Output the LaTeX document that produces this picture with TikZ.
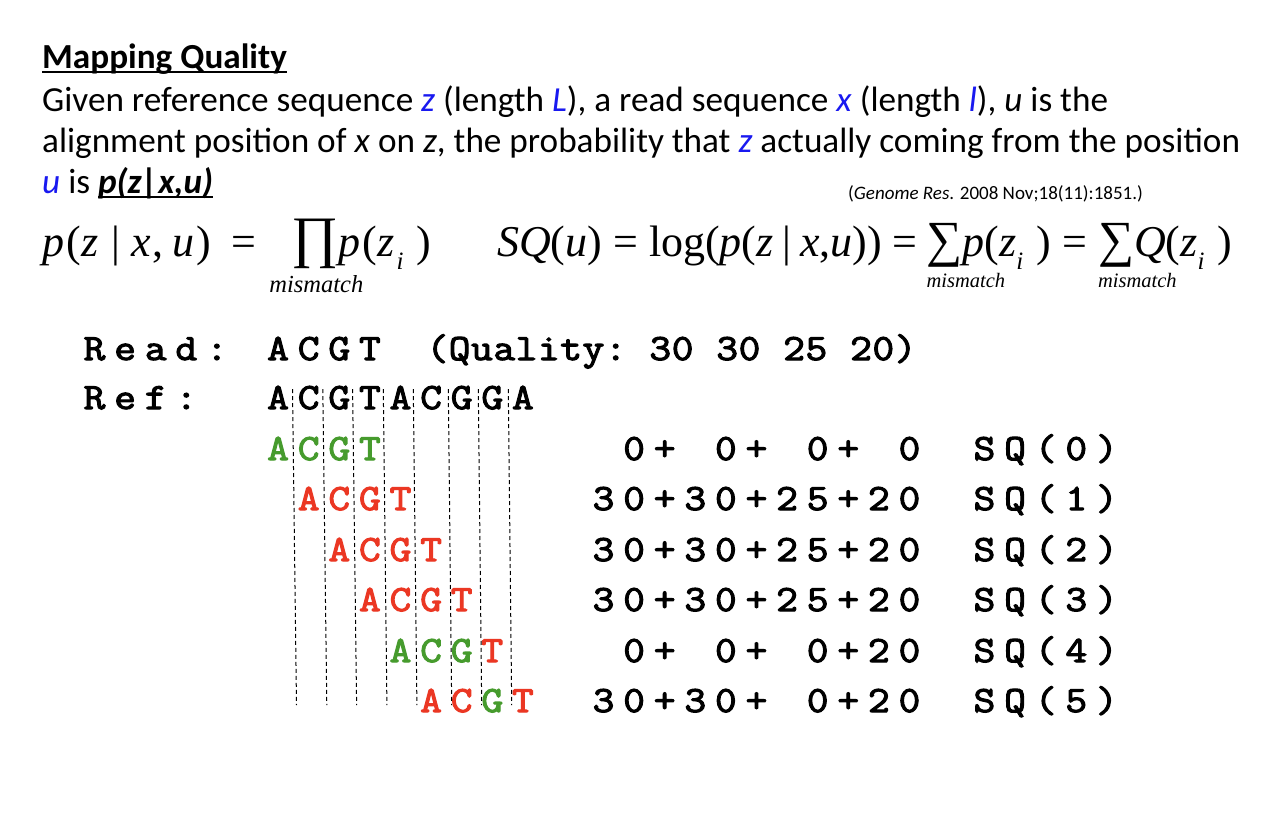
\documentclass[tikz,border=0pt]{standalone}
\usepackage{fontspec}
\setmainfont{Carlito}
\newfontfamily\tms{Liberation Serif}
\newfontfamily\crb[FakeBold=3,FakeStretch=1.14]{Latin Modern Mono}
\definecolor{grn}{RGB}{70,155,45}
\definecolor{rd}{RGB}{235,55,35}
\definecolor{bl}{RGB}{25,25,240}
\newlength\cellw \setlength\cellw{30.6pt}
\makeatletter
\newcommand\spc[2][\cellw]{\def\spcw{#1}\spc@i#2\relax}
\def\spc@i#1{\ifx\relax#1\else\makebox[\spcw][c]{#1}\expandafter\spc@i\fi}
\makeatother
\newcommand\ulx[1]{\setbox0\hbox{#1}\rlap{\vrule height -3pt depth 5pt width \wd0}\box0}
\newcommand\mi[1]{{\itshape #1}}
\newcommand\mic[1]{{\itshape #1}\hspace{0.05em}}
\newcommand\sbi{\raisebox{-0.3em}{\fontsize{25}{25}\selectfont\itshape i}\hspace{0.3em}}
\newcommand\vb{\hspace{0.25em}|\hspace{0.25em}}
\newcommand\vbn{\hspace{0.2em}|\hspace{0.2em}}
% operator with "mismatch" below: #1 symbol, #2 drop, #3 size, #4 left shift
\newcommand\opl[4]{\rlap{\hspace{-#4}\raisebox{-#2}{\fontsize{#3}{#3}\selectfont\itshape mismatch}}#1}
\newcommand\bz[1]{\textcolor{bl}{\textit{#1}}}
\tikzset{
  body/.style={anchor=base west, inner sep=0pt, font=\fontsize{35.2}{40}\selectfont},
  frm/.style={anchor=base west, inner sep=0pt, font=\tms\fontsize{44}{48}\selectfont},
  mono/.style={anchor=base west, inner sep=0pt, font=\crb\fontsize{37}{40}\selectfont},
  guide/.style={draw=black, line width=1pt, dash pattern=on 4pt off 3pt}
}
\begin{document}
\begin{tikzpicture}[x=1pt,y=-1pt]
\useasboundingbox[fill=white] (0,0) rectangle (1272,831);
% heading and text
\node[body, font=\bfseries\fontsize{35.2}{40}\selectfont] (title) at (42,68) {\ulx{Mapping Quality}};
\node[body] (l1) at (42,111) {Given reference sequence \bz{z} (length \bz{L}), a read sequence \bz{x} (length \bz{l}), \textit{u} is the};
\node[body] (l2) at (42,152) {alignment position of \textit{x} on \textit{z}, the probability that \bz{z} actually coming from the position};
\node[body] (l3) at (42,193) {\bz{u} is \textbf{\textit{\ulx{p(z|x,u)}}}};
\node[anchor=base west, inner sep=0pt, font=\fontsize{19}{21}\selectfont] (cite) at (848,199) {(\textit{Genome Res}. 2008 Nov;18(11):1851.)};
% formulas
\node[frm] (f1) at (42,256) {\mic{p}(\mic{z}\vb\mic{x},\hspace{0.2em}\mic{u})\hspace{0.45em}=\hspace{0.8em}\opl{\scalebox{1.3}{∏}}{36pt}{24.5}{22pt}\mic{p}(\mic{z}\sbi)};
\node[frm] (f2) at (497,256) {\mi{SQ}(\mi{u}) = log(\mi{p}(\mi{z}\vbn\mi{x},\mi{u})) =\hspace{0.2em}\opl{\scalebox{1.15}{∑}}{31pt}{20.5}{0pt}\mi{p}(\mi{z}\sbi) =\hspace{0.25em}\opl{\scalebox{1.15}{∑}}{31pt}{20.5}{0pt}\mi{Q}(\mi{z}\sbi)};
% read / ref
\node[mono] (read) at (79,360) {\spc{Read:~ACGT~}};
\node[mono] (qual) at (426,360) {\spc[22.3pt]{(Quality:~30~30~25~20)}};
\node[mono] (ref) at (79,409) {\spc{Ref:~~ACGTACGGA}};
% aligned reads
\node[mono, text=grn] (r0) at (262.6,460) {\spc{ACGT}};
\node[mono, text=rd]  (r1) at (293.2,510) {\spc{ACGT}};
\node[mono, text=rd]  (r2) at (323.8,561) {\spc{ACGT}};
\node[mono, text=rd]  (r3) at (354.4,611) {\spc{ACGT}};
\node[mono, text=grn] (r4) at (385.0,662) {\spc{ACG{\color{rd}T}}};
\node[mono, text=rd]  (r5) at (415.6,712) {\spc{AC{\color{grn}G}T}};
% scores
\node[mono] (s0) at (588,460) {\spc{~0+~0+~0+~0}};
\node[mono] (s1) at (588,510) {\spc{30+30+25+20}};
\node[mono] (s2) at (588,561) {\spc{30+30+25+20}};
\node[mono] (s3) at (588,611) {\spc{30+30+25+20}};
\node[mono] (s4) at (588,662) {\spc{~0+~0+~0+20}};
\node[mono] (s5) at (588,712) {\spc{30+30+~0+20}};
\node[mono] (q0) at (969,460) {\spc{SQ(0)}};
\node[mono] (q1) at (969,510) {\spc{SQ(1)}};
\node[mono] (q2) at (969,561) {\spc{SQ(2)}};
\node[mono] (q3) at (969,611) {\spc{SQ(3)}};
\node[mono] (q4) at (969,662) {\spc{SQ(4)}};
\node[mono] (q5) at (969,712) {\spc{SQ(5)}};
% dashed guides
\foreach \i/\xt/\xb in {1/292.5/296.5, 2/322.8/326.8, 3/352.6/356.6, 4/383.3/386.9, 5/413.3/416.9, 6/448.3/451.7, 7/478.3/481.7, 8/508.3/511.7} {
  \coordinate (gt\i) at (\xt,389);
  \coordinate (gb\i) at (\xb,705);
  \draw[guide] (gt\i) -- (gb\i);
}
\end{tikzpicture}
\end{document}
